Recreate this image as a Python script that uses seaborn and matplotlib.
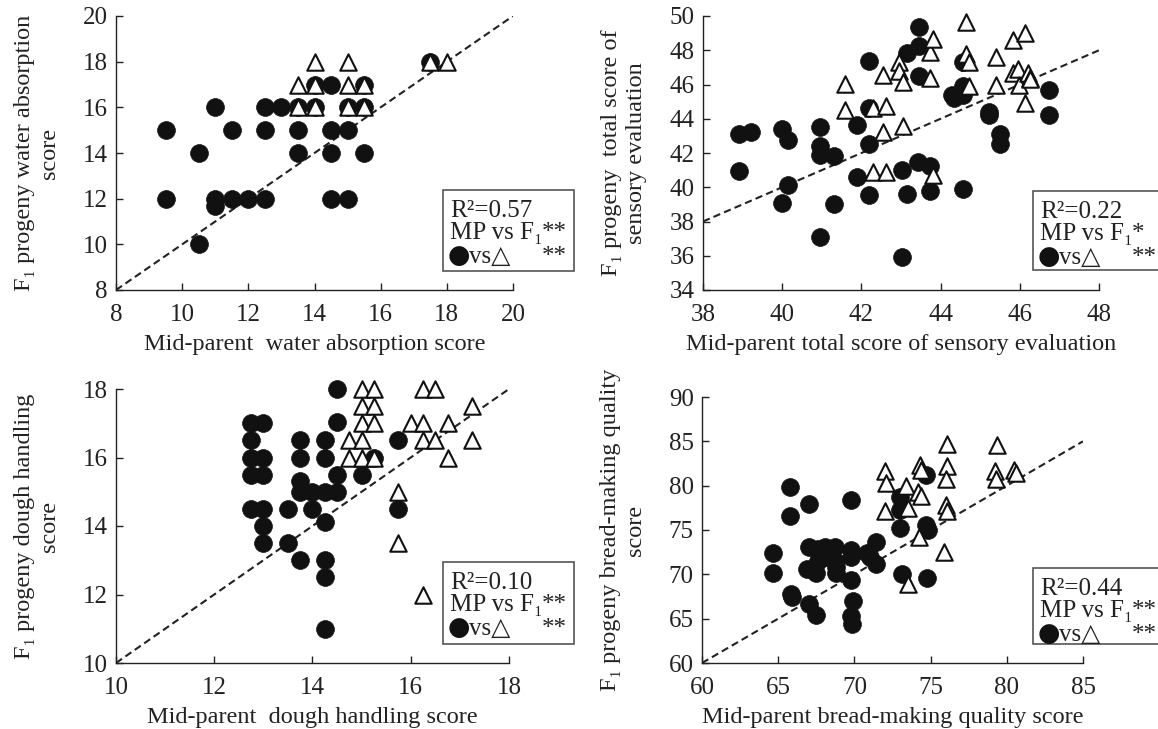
import pandas as pd
import matplotlib
matplotlib.use("Agg")
import matplotlib.pyplot as plt
from matplotlib.patches import Rectangle
import seaborn as sns

# water absorption
wa_circle_x = [9.5, 9.5, 10.5, 10.5, 11, 11, 11, 11.5, 11.5, 12, 12.5, 12.5, 12.5, 13,
               13.5, 13.5, 13.5, 14, 14, 14.5, 14.5, 14.5, 14.5, 15, 15, 15, 15.5, 15.5, 15.5, 17.5]
wa_circle_y = [15, 12, 14, 10, 16, 12, 11.7, 15, 12, 12, 16, 15, 12, 16,
               16, 15, 14, 17, 16, 17, 15, 14, 12, 16, 15, 12, 17, 16, 14, 18]
wa_tri_x = [13.5, 13.5, 14, 14, 14, 15, 15, 15, 15.5, 15.5, 17.5, 18]
wa_tri_y = [17, 16, 18, 17, 16, 18, 17, 16, 17, 16, 18, 18]

# total score of sensory evaluation
se_circle_x = [38.9, 39.2, 38.9, 40.0, 40.15, 40.15, 40.0, 40.96, 40.96, 40.96, 41.3, 41.3,
               40.96, 41.9, 41.9, 42.2, 42.2, 42.2, 42.2, 43.03, 43.03, 43.15, 43.15, 43.46,
               43.46, 43.46, 43.42, 43.72, 43.72, 44.28, 44.33, 44.56, 44.56, 44.56, 44.56,
               45.22, 45.22, 45.5, 45.5, 46.74, 46.74]
se_circle_y = [43.1, 43.25, 40.95, 43.4, 42.75, 40.15, 39.1, 43.5, 42.4, 41.9, 41.8, 39.0,
               37.1, 43.65, 40.6, 47.35, 44.6, 42.55, 39.57, 41.0, 35.93, 47.86, 39.6, 49.36,
               48.25, 46.48, 41.48, 41.24, 39.8, 45.37, 45.2, 47.3, 45.9, 45.4, 39.92,
               44.4, 44.2, 43.1, 42.5, 45.7, 44.2]
se_tri_x = [41.59, 41.59, 42.29, 42.29, 42.55, 42.55, 42.63, 42.63, 42.94, 42.94, 43.05, 43.05,
            43.72, 43.8, 43.72, 43.8, 44.63, 44.63, 44.72, 44.72, 45.4, 45.4, 45.83, 45.83,
            45.95, 45.97, 46.14, 46.14, 46.2, 46.25, 46.27]
se_tri_y = [46.05, 44.5, 44.6, 40.9, 46.54, 43.23, 44.75, 40.9, 47.3, 46.77, 46.13, 43.56,
            47.9, 48.68, 46.4, 40.7, 49.65, 47.8, 47.3, 45.9, 47.6, 45.95, 48.6, 46.7,
            46.9, 45.95, 49.0, 44.9, 46.7, 46.4, 46.3]

# dough handling
dh_circle_x = [12.75, 12.75, 12.75, 12.75, 12.75, 13, 13, 13, 13, 13, 13, 13.5, 13.5,
               13.75, 13.75, 13.75, 13.75, 13.75, 14, 14, 14.25, 14.25, 14.25, 14.25, 14.25,
               14.25, 14.25, 14.5, 14.5, 14.5, 14.5, 15, 15.25, 15.75, 15.75]
dh_circle_y = [17, 16.5, 16, 15.5, 14.5, 17, 16, 15.5, 14.5, 14, 13.5, 14.5, 13.5,
               16.5, 16, 15.3, 15, 13, 15, 14.5, 16.5, 16, 15, 14.12, 13, 12.5, 11,
               18, 17.05, 15.5, 15, 15.5, 16, 16.5, 14.5]
dh_tri_x = [14.75, 14.75, 15, 15, 15, 15, 15, 15.25, 15.25, 15.25, 15.25, 15.75, 15.75, 16,
            16.25, 16.25, 16.25, 16.25, 16.5, 16.5, 16.75, 16.75, 17.25, 17.25]
dh_tri_y = [16.5, 16, 18, 17.5, 17, 16.5, 16, 18, 17.5, 17, 16, 15, 13.5, 17,
            18, 17, 16.5, 12, 18, 16.5, 17, 16, 17.5, 16.5]

# bread-making quality
bq_circle_x = [64.67, 64.67, 65.77, 65.77, 65.84, 65.9, 67.04, 67.04, 67.48, 67.04, 66.87,
               67.48, 67.6, 68.1, 68.7, 68.1, 68.7, 67.6, 68.8, 68.8, 69.75, 69.75, 69.75,
               69.75, 69.9, 69.8, 69.87, 70.8, 71.0, 71.44, 71.44, 72.98, 72.98, 72.98,
               73.1, 74.7, 74.7, 74.8, 74.76]
bq_circle_y = [72.4, 70.2, 79.8, 76.6, 67.8, 67.5, 77.9, 66.6, 65.4, 73.1, 70.6,
               70.1, 72.9, 73.1, 73.1, 72.0, 71.5, 71.5, 70.1, 70.8, 78.4, 72.7, 72.0,
               69.4, 67.0, 65.25, 64.4, 72.4, 71.9, 73.7, 71.2, 78.75, 77.3, 75.2,
               70.0, 81.2, 75.6, 75.0, 69.6]
bq_tri_x = [72.0, 72.1, 72.0, 73.4, 73.5, 73.5, 74.3, 74.4, 74.2, 74.4, 74.25, 76.1, 76.1,
            76.0, 76.0, 76.1, 75.9, 79.38, 79.2, 79.3, 80.5, 80.6]
bq_tri_y = [81.6, 80.3, 77.1, 80.0, 77.5, 68.9, 82.3, 81.8, 79.3, 78.8, 74.2, 84.7, 82.2,
            80.7, 77.8, 77.1, 72.5, 84.6, 81.6, 80.8, 81.8, 81.4]

W, H = 1158, 729

# axes given as (left, top, right, bottom) in picture pixels; box as (left, top, width, height)
panels = [
    dict(cx=wa_circle_x, cy=wa_circle_y, tx=wa_tri_x, ty=wa_tri_y, lim=(8, 20), step=2,
         xlabel="Mid-parent  water absorption score",
         ylabel="F\u2081 progeny water absorption\nscore", r2="0.57", sig="**",
         px=(116, 16, 513, 290), box=(443, 190, 131, 81)),
    dict(cx=se_circle_x, cy=se_circle_y, tx=se_tri_x, ty=se_tri_y, lim=(38, 48), ylim=(34, 50),
         step=2, xlabel="Mid-parent total score of sensory evaluation",
         ylabel="F\u2081 progeny  total score of\nsensory evaluation", r2="0.22", sig="*",
         px=(703, 16, 1099, 290), box=(1033, 191, 131, 79)),
    dict(cx=dh_circle_x, cy=dh_circle_y, tx=dh_tri_x, ty=dh_tri_y, lim=(10, 18), step=2,
         xlabel="Mid-parent  dough handling score",
         ylabel="F\u2081 progeny dough handling\nscore", r2="0.10", sig="**",
         px=(116, 389, 509, 663), box=(443, 562, 131, 82)),
    dict(cx=bq_circle_x, cy=bq_circle_y, tx=bq_tri_x, ty=bq_tri_y, lim=(60, 85), ylim=(60, 90),
         step=5, xlabel="Mid-parent bread-making quality score",
         ylabel="F\u2081 progeny bread-making quality\nscore", r2="0.44", sig="**",
         px=(702, 397, 1083, 663), box=(1033, 568, 131, 76)),
]

sns.set_style("ticks")
serif = ['Liberation Serif', 'DejaVu Serif']
plt.rcParams['font.family'] = serif
plt.rcParams['text.color'] = '#222222'
plt.rcParams['axes.labelcolor'] = '#222222'

fig = plt.figure(figsize=(W / 100, H / 100), dpi=100)


def fx(x):
    return x / W


def fy(y):
    return 1 - y / H


for p in panels:
    l, t, r, b = p['px']
    ax = fig.add_axes([fx(l), fy(b), (r - l) / W, (b - t) / H])
    lo, hi = p['lim']
    ylo, yhi = p.get('ylim', p['lim'])
    circles = pd.DataFrame({'x': p['cx'], 'y': p['cy']})
    tris = pd.DataFrame({'x': p['tx'], 'y': p['ty']})
    sns.scatterplot(data=circles, x='x', y='y', ax=ax, s=165, color='#111111',
                    edgecolor='#111111', linewidth=0.5, marker='o', zorder=3, clip_on=False)
    sns.scatterplot(data=tris, x='x', y='y', ax=ax, s=140, facecolor='white',
                    edgecolor='#111111', linewidth=1.5, marker='^', zorder=4, clip_on=False)
    ax.plot([lo, hi], [lo, hi], ls='--', color='#222222', lw=1.5, dashes=(3.5, 2), zorder=2)
    ax.set_xlim(lo, hi)
    ax.set_ylim(ylo, yhi)
    ax.set_xticks(range(lo, hi + 1, p['step']))
    ax.set_yticks(range(ylo, yhi + 1, p['step']))
    ax.tick_params(direction='in', length=5, width=1, labelsize=18, colors='#222222', pad=6)
    ax.tick_params(axis='x', pad=10)
    for sp in ['top', 'right']:
        ax.spines[sp].set_visible(False)
    for sp in ['left', 'bottom']:
        ax.spines[sp].set_linewidth(1.0)
        ax.spines[sp].set_color('#222222')
    ax.set_xlabel(p['xlabel'], fontsize=17.5, labelpad=6)
    ax.set_ylabel(p['ylabel'], fontsize=17.5, labelpad=16, linespacing=1.3)

    # statistics box
    bl, bt, bw, bh = p['box']
    fig.add_artist(Rectangle((fx(bl), fy(bt + bh)), bw / W, bh / H, transform=fig.transFigure,
                             facecolor='white', edgecolor='#555555', lw=1.2, zorder=10))
    fs = 18
    fig.text(fx(bl + 7), fy(bt + 27), "R\u00b2=" + p['r2'], fontsize=fs, va='baseline',
             ha='left', zorder=11)
    fig.text(fx(bl + 7), fy(bt + 49), "MP vs F\u2081", fontsize=fs, va='baseline',
             ha='left', zorder=11)
    fig.text(fx(bl + 99), fy(bt + 49), p['sig'], fontsize=fs, va='baseline', ha='left',
             zorder=11)
    fig.text(fx(bl + 5), fy(bt + 66), "\u25cf", fontsize=18.5, family='DejaVu Sans',
             color='#111111', va='center', ha='left', zorder=11)
    fig.text(fx(bl + 26), fy(bt + 73), "vs\u25b3", fontsize=fs, va='baseline', ha='left',
             zorder=11)
    fig.text(fx(bl + 99), fy(bt + 73), "**", fontsize=fs, va='baseline', ha='left', zorder=11)

fig.savefig("out.png", dpi=100)
